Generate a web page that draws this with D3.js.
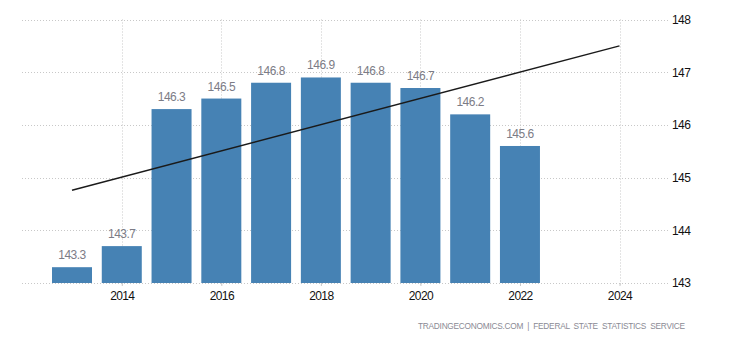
<!DOCTYPE html>
<html><head><meta charset="utf-8">
<script src="https://cdn.jsdelivr.net/npm/d3@7"></script>
<style>
html,body{margin:0;padding:0;background:#fff;}
svg{display:block;}
</style></head>
<body>
<svg id="chart" width="730" height="340"></svg>
<script>
const years = [2013, 2014, 2015, 2016, 2017, 2018, 2019, 2020, 2021, 2022];
const values = [143.3, 143.7, 146.3, 146.5, 146.8, 146.9, 146.8, 146.7, 146.2, 145.6];
const trendYears = [2013, 2024];
const trendValues = [144.76, 147.5];
const xTicks = [2014, 2016, 2018, 2020, 2022, 2024];
const yTicks = [143, 144, 145, 146, 147, 148];
const source = "TRADINGECONOMICS.COM  |  FEDERAL  STATE  STATISTICS  SERVICE";

const svg = d3.select("#chart");
const x = d3.scaleLinear().domain([2013, 2024]).range([72, 619.5]);
const y = d3.scaleLinear().domain([143, 148]).range([283, 19.5]);
const barW = 40;
const font = "'Liberation Sans', Arial, sans-serif";

// horizontal grid
svg.append("g").selectAll("line").data(yTicks).join("line")
  .attr("x1", 22).attr("x2", 669)
  .attr("y1", d => Math.round(y(d)) + 0.5).attr("y2", d => Math.round(y(d)) + 0.5)
  .attr("stroke", "#c8c8c8").attr("stroke-dasharray", "1,2");

// vertical grid
svg.append("g").selectAll("line").data(xTicks).join("line")
  .attr("x1", d => Math.round(x(d)) + 0.5).attr("x2", d => Math.round(x(d)) + 0.5)
  .attr("y1", y(148)).attr("y2", y(143) + 3)
  .attr("stroke", "#c8c8c8").attr("stroke-dasharray", "1,2");

// bars
svg.append("g").selectAll("rect").data(years).join("rect")
  .attr("x", (d) => x(d) - barW / 2)
  .attr("width", barW)
  .attr("y", (d, i) => y(values[i]))
  .attr("height", (d, i) => y(143) - y(values[i]))
  .attr("fill", "#4682b4");

// value labels
svg.append("g").selectAll("text").data(years).join("text")
  .attr("x", d => x(d))
  .attr("y", (d, i) => y(values[i]) - 8)
  .attr("text-anchor", "middle")
  .attr("font-family", font).attr("font-size", 12)
  .attr("letter-spacing", "-0.5px")
  .attr("fill", "#7c7c86")
  .text((d, i) => values[i].toFixed(1));

// trend line
const line = d3.line().x(d => x(d[0])).y(d => y(d[1]));
svg.append("path")
  .attr("d", line(trendYears.map((t, i) => [t, trendValues[i]])))
  .attr("fill", "none").attr("stroke", "#1a1a1a").attr("stroke-width", 1.3);

// x axis
const xAxis = d3.axisBottom(x).tickValues(xTicks).tickFormat(d3.format("d")).tickSize(3).tickPadding(5);
const gx = svg.append("g").attr("transform", `translate(0,${y(143)})`).call(xAxis);
gx.select(".domain").remove();
gx.selectAll(".tick line").attr("stroke", "#c8c8c8");
gx.selectAll("text").attr("font-family", font).attr("font-size", 12)
  .attr("letter-spacing", "-0.6px").attr("fill", "#111");

// y axis
const yAxis = d3.axisRight(y).tickValues(yTicks).tickFormat(d3.format("d")).tickSize(0).tickPadding(3);
const gy = svg.append("g").attr("transform", "translate(669,0)").call(yAxis);
gy.select(".domain").remove();
gy.selectAll("text").attr("font-family", font).attr("font-size", 12)
  .attr("letter-spacing", "-0.6px").attr("fill", "#111");

// source
svg.append("text")
  .attr("x", 418).attr("y", 328.5)
  .attr("font-family", font).attr("font-size", 8.3)
  .attr("fill", "#8a8a94")
  .attr("textLength", 267).attr("lengthAdjust", "spacing")
  .attr("xml:space", "preserve")
  .style("white-space", "pre")
  .text(source);
</script>
</body></html>
